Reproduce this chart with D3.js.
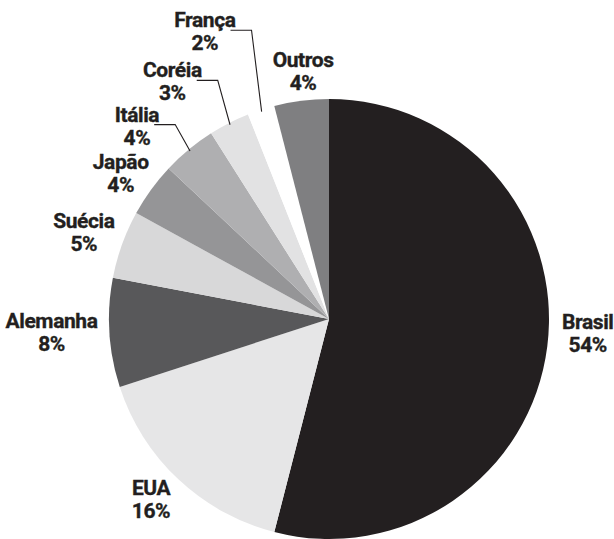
<!DOCTYPE html>
<html>
<head>
<meta charset="utf-8">
<script src="https://cdn.jsdelivr.net/npm/d3@7"></script>
<style>
  body { margin: 0; background: #fff; }
  text { font-family: 'Liberation Sans Narrow', 'Roboto', sans-serif; font-weight: bold; font-size: 21px; letter-spacing: -0.4px; fill: #231f20; stroke: #231f20; stroke-width: 0.35px; }
</style>
</head>
<body>
<div id="chart"></div>
<script>
// dados
const countries = ['Brasil', 'EUA', 'Alemanha', 'Suécia', 'Japão', 'Itália', 'Coréia', 'França', 'Outros'];
const shares = [54, 16, 8, 5, 4, 4, 3, 2, 4];
const fills = ['#231f20', '#e6e6e7', '#58585a', '#d8d8d9', '#959597', '#afafb1', '#e2e2e3', '#ffffff', '#7f7f81'];

// ajustes manuais das etiquetas (dx, dy) e quais têm linha de chamada
const nudges = [[3, -17], [-6, -3], [0, -3], [2, -2], [2, 2], [-30, 0], [-38, -14], [-43, -49], [7, 1]];
const leaders = [false, false, false, false, false, true, true, true, false];

const width = 614, height = 539;
const cx = 329, cy = 319, r = 220;
const lineH = 23, capH = 15;

const data = countries.map((c, i) => ({ name: c, v: shares[i], fill: fills[i], nudge: nudges[i], leader: leaders[i] }));

const svg = d3.select('#chart').append('svg')
  .attr('width', width)
  .attr('height', height);

const g = svg.append('g').attr('transform', `translate(${cx},${cy})`);

const pie = d3.pie().sort(null).value(d => d.v);
const arc = d3.arc().innerRadius(0).outerRadius(r);
const arcs = pie(data);

g.selectAll('path.slice')
  .data(arcs)
  .join('path')
  .attr('class', 'slice')
  .attr('d', arc)
  .attr('fill', d => d.data.fill);

// etiquetas
arcs.forEach(d => {
  const mid = (d.startAngle + d.endAngle) / 2;
  const s = Math.sin(mid), c = Math.cos(mid);
  const t = g.append('text').attr('text-anchor', 'middle');
  const t1 = t.append('tspan').text(d.data.name);
  const t2 = t.append('tspan').text(d.data.v + '%');
  const w = Math.max(t1.node().getComputedTextLength(), t2.node().getComputedTextLength());
  const blockH = lineH + capH;
  const ax = (r + 12) * s, ay = -(r + 12) * c;
  const bx = ax + s * w / 2 + d.data.nudge[0];
  const by = ay - c * blockH / 2 + d.data.nudge[1];
  const base1 = by - blockH / 2 + capH;
  t1.attr('x', bx).attr('y', base1);
  t2.attr('x', bx).attr('y', base1 + lineH);

  if (d.data.leader) {
    const w1 = t1.node().getComputedTextLength();
    const right = bx + w1 / 2;
    const end = [(r - 2) * s, -(r - 2) * c];
    g.append('polyline')
      .attr('points', [[right - 5, base1 + 3], [right + 16, base1 + 3], end].map(p => p.join(',')).join(' '))
      .attr('fill', 'none')
      .attr('stroke', '#231f20')
      .attr('stroke-width', 1.1);
  }
});
</script>
</body>
</html>
